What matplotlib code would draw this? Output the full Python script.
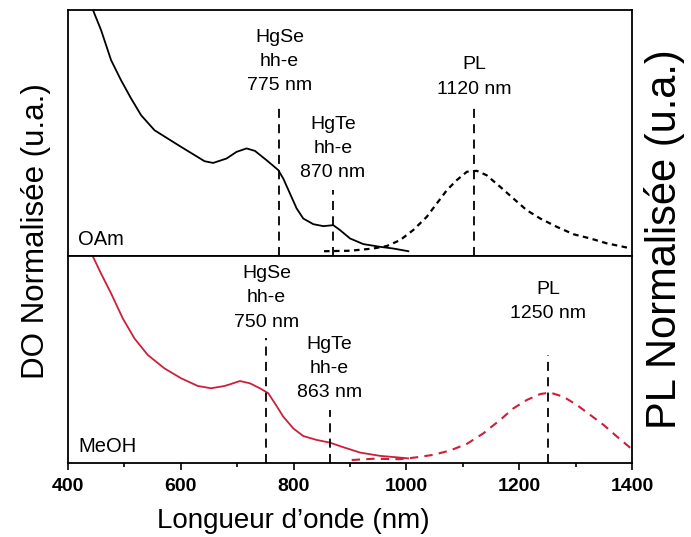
import matplotlib
matplotlib.use('Agg')
import matplotlib.pyplot as plt
from matplotlib.ticker import MultipleLocator

plt.rcParams['font.family'] = ['Liberation Sans', 'DejaVu Sans']

# OAm panel (normalised)
oam_abs_x = [435, 446.1, 459.1, 476.8, 494.5, 512.3, 530, 553.7, 577.3, 601, 624.6, 642.4, 657.6,
             681.4, 699, 716.8, 731.6, 752.3, 772.9, 781.7, 793.6, 805.5, 817.2, 835, 852.7, 870.4,
             882.3, 900, 923.6, 953.2, 976.8, 1003.4]
oam_abs_y = [1.06, 0.993, 0.919, 0.797, 0.715, 0.641, 0.573, 0.512, 0.478, 0.444, 0.411, 0.386, 0.379,
             0.397, 0.424, 0.438, 0.428, 0.390, 0.350, 0.316, 0.255, 0.194, 0.153, 0.130, 0.122, 0.126,
             0.106, 0.072, 0.049, 0.038, 0.031, 0.020]
oam_pl_x = [854, 900, 941, 965, 988.7, 1012, 1036, 1053.7, 1071.5, 1089, 1107, 1124.6, 1142, 1166,
            1189.6, 1213, 1237, 1266.5, 1296, 1325.5, 1355, 1390.6]
oam_pl_y = [0.020, 0.022, 0.031, 0.041, 0.065, 0.106, 0.160, 0.214, 0.268, 0.309, 0.343, 0.347, 0.329,
            0.282, 0.234, 0.187, 0.153, 0.119, 0.089, 0.072, 0.052, 0.035]

# MeOH panel (normalised)
meoh_abs_x = [435, 444.3, 459, 476.8, 497.5, 518.2, 541.8, 571.4, 601, 630.5, 654, 677.8, 687.2, 705,
              722.7, 740.4, 755.2, 767, 781.7, 799.5, 817.2, 841, 864.5, 888, 917.7, 953.2, 982.8, 1003]
meoh_abs_y = [1.05, 1.0, 0.916, 0.820, 0.699, 0.602, 0.522, 0.457, 0.409, 0.372, 0.361, 0.372, 0.380, 0.396,
              0.385, 0.361, 0.337, 0.288, 0.224, 0.167, 0.130, 0.111, 0.098, 0.076, 0.050, 0.034, 0.027, 0.022]
meoh_pl_x = [903, 941, 988.7, 1018, 1047.7, 1077.3, 1107, 1136.3, 1166, 1189.6, 1213, 1237, 1254.6,
             1278, 1302, 1325.5, 1349, 1373, 1399.5]
meoh_pl_y = [0.014, 0.020, 0.018, 0.027, 0.039, 0.060, 0.092, 0.143, 0.208, 0.264, 0.304, 0.333, 0.340,
             0.320, 0.280, 0.232, 0.184, 0.127, 0.066]

# transitions: wavelength, dashed line top, label bottom, label
oam_marks = [(775, 0.62, 0.66, 'HgSe\nhh-e\n775 nm'), (870, 0.268, 0.305, 'HgTe\nhh-e\n870 nm'),
             (1120, 0.62, 0.645, 'PL\n1120 nm')]
meoh_marks = [(752, 0.604, 0.64, 'HgSe\nhh-e\n750 nm'), (864, 0.256, 0.30, 'HgTe\nhh-e\n863 nm'),
              (1251, 0.522, 0.68, 'PL\n1250 nm')]

red = '#cc1f3a'

fig = plt.figure(figsize=(6.91, 5.37), dpi=100)
ax1 = fig.add_axes([0.098, 0.523, 0.817, 0.458])
ax2 = fig.add_axes([0.098, 0.138, 0.817, 0.385], sharex=ax1)

ax1.plot(oam_abs_x, oam_abs_y, color='black', lw=1.3)
ax1.plot(oam_pl_x, oam_pl_y, color='black', lw=1.6, ls=(0, (2.5, 2)))
ax2.plot(meoh_abs_x, meoh_abs_y, color=red, lw=1.3)
ax2.plot(meoh_pl_x, meoh_pl_y, color=red, lw=1.5, ls=(0, (4, 3)))

for ax, marks in [(ax1, oam_marks), (ax2, meoh_marks)]:
    for x, top, ty, lab in marks:
        ax.vlines(x, 0, top, colors='black', linestyles=(0, (5, 3.5)), lw=1.3)
        ax.text(x, ty, lab, ha='center', va='bottom', fontsize=14, linespacing=1.55)
    ax.set_ylim(0, 1)
    ax.set_yticks([])
    for s in ax.spines.values():
        s.set_linewidth(1.3)

ax1.text(418, 0.03, 'OAm', fontsize=14.5, va='bottom')
ax2.text(418, 0.035, 'MeOH', fontsize=14.5, va='bottom')

ax1.tick_params(axis='x', which='both', bottom=False, labelbottom=False)
ax2.set_xlim(400, 1400)
ax2.xaxis.set_major_locator(MultipleLocator(200))
ax2.xaxis.set_minor_locator(MultipleLocator(100))
ax2.tick_params(axis='x', which='major', direction='out', length=5, width=1.2, labelsize=14, pad=6)
ax2.tick_params(axis='x', which='minor', direction='out', length=3, width=1.2)
for t in ax2.get_xticklabels():
    t.set_fontweight('bold')
ax2.set_xlabel('Longueur d\u2019onde (nm)', fontsize=20)
ax2.xaxis.set_label_coords(0.40, -0.22)

fig.text(0.052, 0.57, 'DO Normalisée (u.a.)', rotation=90, fontsize=22.5, ha='center', va='center')
fig.text(0.962, 0.555, 'PL Normalisée (u.a.)', rotation=90, fontsize=30, ha='center', va='center')

fig.savefig('out.png', dpi=100)
